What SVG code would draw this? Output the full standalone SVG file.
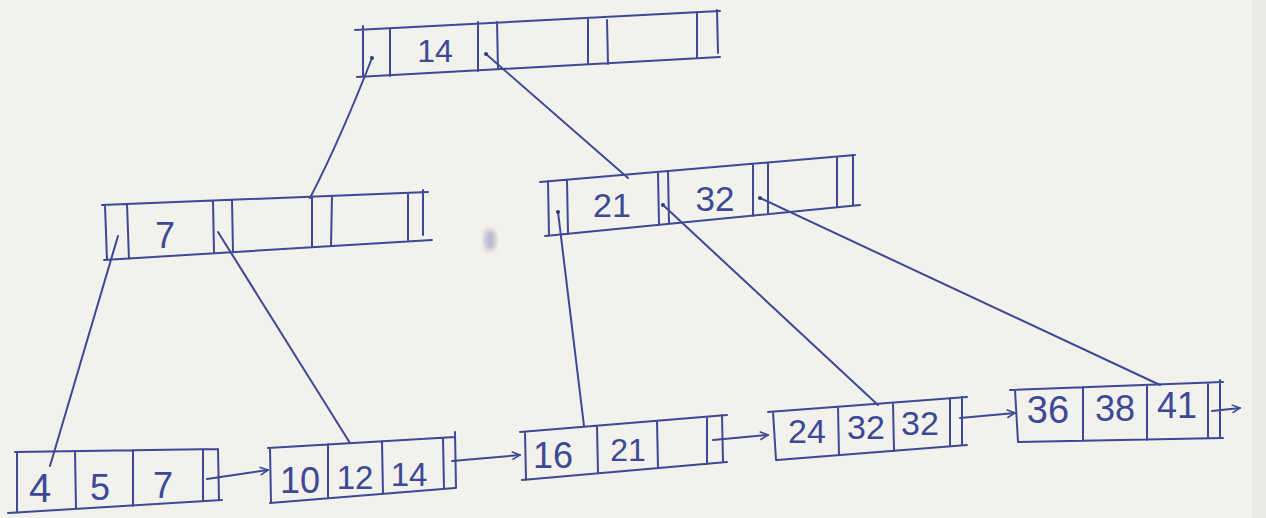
<svg xmlns="http://www.w3.org/2000/svg" width="1266" height="518" viewBox="0 0 1266 518">
<defs>
<style>
.ink{fill:none;stroke:#3b4996;stroke-width:2;stroke-linecap:round;stroke-linejoin:round}
.lbl{fill:#3b4996;font-family:"Liberation Sans","DejaVu Sans",sans-serif;text-anchor:middle}
.dot{fill:#2e3a80}
</style>
<marker id="chev" viewBox="0 0 10 10" refX="9" refY="5" markerWidth="10" markerHeight="10" markerUnits="userSpaceOnUse" orient="auto">
<path d="M1,1 L9,5 L1,9" fill="none" stroke="#3b4996" stroke-width="1.6"/>
</marker>
<filter id="blur"><feGaussianBlur stdDeviation="2.5"/></filter>
</defs>
<rect width="1266" height="518" fill="#f3f1ec"/>
<rect x="1252" y="0" width="14" height="518" fill="#e9e9e6"/>
<ellipse cx="490" cy="240" rx="6" ry="11" fill="#9a95b8" opacity="0.6" filter="url(#blur)"/>

<g id="root">
<path class="ink" d="M355,30 L720,11 M357,77 L720,57 M363,26 L363,77 M390,28 L390,76 M478,22 L478,71 M497,22 L498,69 M588,18 L588,64 M607,20 L608,64 M697,12 L697,58 M717,10 L718,53"/>
<text class="lbl" x="435" y="62" font-size="32">14</text>
</g>

<g id="internal-left">
<path class="ink" d="M102,205 L428,192 M104,260 L432,240 M105,205 L107,260 M127,204 L129,259 M213,201 L214,253 M232,200 L233,252 M312,197 L312,247 M332,196 L331,246 M408,193 L408,241 M423,190 L423,235"/>
<text class="lbl" x="165" y="248" font-size="36">7</text>
</g>

<g id="internal-right">
<path class="ink" d="M540,182 L855,155 M545,236 L860,205 M548,181 L549,236 M567,180 L568,234 M658,172 L659,225 M668,171 L669,224 M753,164 L753,216 M768,163 L768,214 M837,157 L837,207 M853,155 L853,205"/>
<text class="lbl" x="612" y="217" font-size="34">21</text>
<text class="lbl" x="715" y="211" font-size="35">32</text>
</g>

<g id="leaf-1">
<path class="ink" d="M15,452 L218,449 M8,513 L222,500 M17,452 L17,513 M75,451 L76,509 M133,450 L133,506 M203,449 L203,501 M218,449 L219,500"/>
<text class="lbl" x="40" y="502" font-size="40">4</text>
<text class="lbl" x="100" y="500" font-size="36">5</text>
<text class="lbl" x="163" y="498" font-size="36">7</text>
</g>

<g id="leaf-2">
<path class="ink" d="M268,448 L455,437 M270,503 L455,488 M270,448 L271,503 M328,444 L328,498 M382,441 L383,494 M443,438 L444,489 M455,432 L456,488"/>
<text class="lbl" x="300" y="493" font-size="36">10</text>
<text class="lbl" x="355" y="489" font-size="33">12</text>
<text class="lbl" x="409" y="486" font-size="33">14</text>
</g>

<g id="leaf-3">
<path class="ink" d="M520,432 L727,415 M522,480 L727,462 M525,432 L526,480 M597,426 L598,473 M657,421 L658,468 M707,417 L707,464 M722,415 L723,462"/>
<text class="lbl" x="553" y="468" font-size="36">16</text>
<text class="lbl" x="628" y="461" font-size="32">21</text>
</g>

<g id="leaf-4">
<path class="ink" d="M768,412 L967,397 M777,460 L967,445 M773,412 L776,460 M838,407 L839,455 M893,403 L894,451 M950,398 L950,446 M962,397 L962,445"/>
<text class="lbl" x="807" y="443" font-size="34">24</text>
<text class="lbl" x="866" y="439" font-size="34">32</text>
<text class="lbl" x="920" y="435" font-size="34">32</text>
</g>

<g id="leaf-5">
<path class="ink" d="M1010,390 L1223,382 M1018,442 L1223,438 M1015,390 L1018,442 M1083,387 L1083,441 M1147,385 L1147,440 M1208,383 L1208,438 M1220,380 L1220,438"/>
<text class="lbl" x="1048" y="423" font-size="38">36</text>
<text class="lbl" x="1115" y="421" font-size="36">38</text>
<text class="lbl" x="1177" y="418" font-size="36">41</text>
</g>

<g id="connectors">
<path class="ink" d="M372,58 Q340,140 310,198"/>
<path class="ink" d="M486,54 L628,178"/>
<path class="ink" d="M118,236 L50,466"/>
<path class="ink" d="M218,232 L350,443"/>
<path class="ink" d="M558,212 L584,426"/>
<path class="ink" d="M663,205 L878,405"/>
<path class="ink" d="M760,198 L1160,385"/>
<path class="ink" d="M207,479 L268,470" marker-end="url(#chev)"/>
<path class="ink" d="M452,461 L520,455" marker-end="url(#chev)"/>
<path class="ink" d="M713,440 L768,435" marker-end="url(#chev)"/>
<path class="ink" d="M960,418 L1015,413" marker-end="url(#chev)"/>
<path class="ink" d="M1212,411 L1240,408" marker-end="url(#chev)"/>
<circle class="dot" cx="372" cy="58" r="2"/>
<circle class="dot" cx="486" cy="54" r="2"/>
<circle class="dot" cx="558" cy="212" r="2"/>
<circle class="dot" cx="663" cy="205" r="2"/>
<circle class="dot" cx="760" cy="198" r="2"/>
</g>
</svg>
